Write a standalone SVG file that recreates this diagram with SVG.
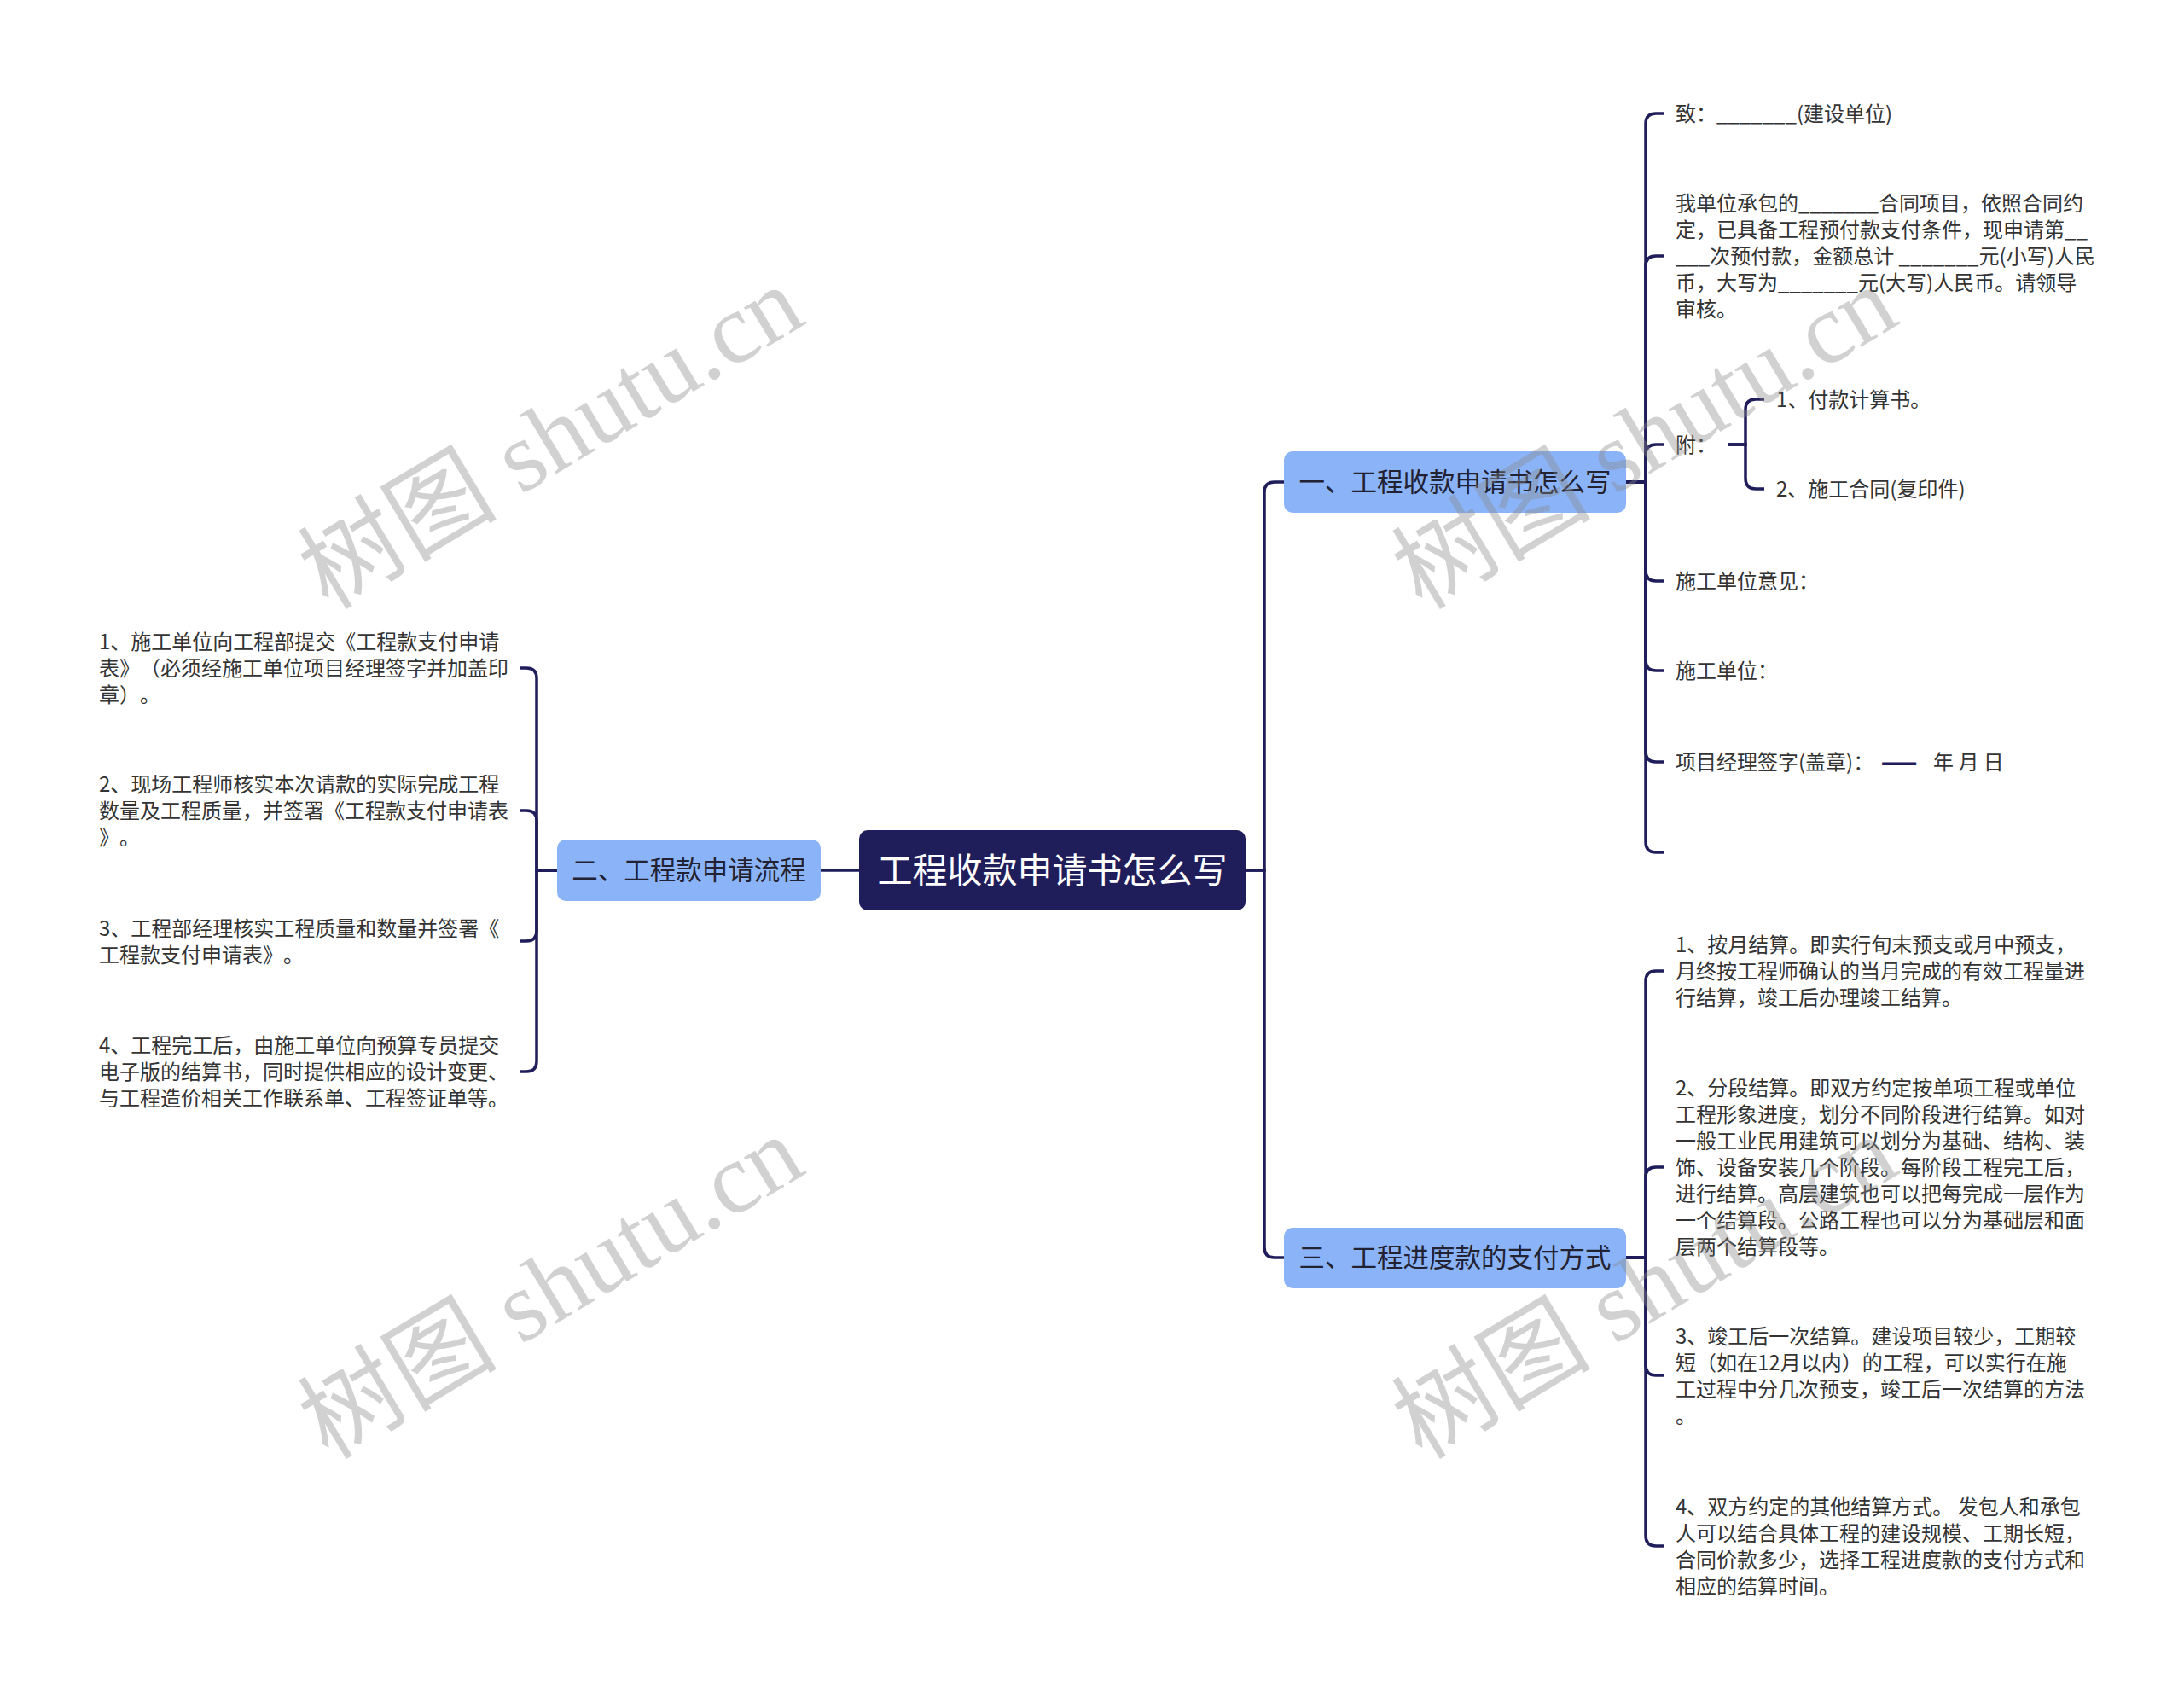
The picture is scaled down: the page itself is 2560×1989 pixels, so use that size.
<svg xmlns="http://www.w3.org/2000/svg" width="2560" height="1989" viewBox="0 0 2560 1989">
<style>
.bg{fill:#ffffff}
.conn{fill:none;stroke:#1f1d5a;stroke-width:3.5;stroke-linecap:butt}
.root{fill:#1f1d5a}
.rootT{fill:#ffffff;font-family:"Noto Sans CJK SC","Noto Sans",sans-serif;font-size:41px}
.br{fill:#8bb4f8}
.brT{fill:#222233;font-family:"Noto Sans CJK SC","Noto Sans",sans-serif;font-size:30.5px}
.leaf{fill:#333333;font-family:"Noto Sans CJK SC","Noto Sans",sans-serif;font-size:24px;text-spacing-trim:space-all}
.dash{fill:#1f1d5a;stroke:#1f1d5a;stroke-width:2}
.wm{fill:#888888;opacity:0.38;font-family:"Liberation Serif","Noto Sans CJK SC",serif;font-size:117px}
</style>
<rect class="bg" x="0" y="0" width="2560" height="1989"/>
<g id="connectors">
<path class="conn" d="M1460,1020 H1482 V577 Q1482,565 1494,565 H1505"/>
<path class="conn" d="M1460,1020 H1482 V1462 Q1482,1474 1494,1474 H1505"/>
<path class="conn" d="M1007,1020 H962"/>
<path class="conn" d="M653,1020 H629 V795 Q629,783 617,783 H609"/>
<path class="conn" d="M653,1020 H629 V962 Q629,950 617,950 H609"/>
<path class="conn" d="M653,1020 H629 V1091 Q629,1103 617,1103 H609"/>
<path class="conn" d="M653,1020 H629 V1244 Q629,1256 617,1256 H609"/>
<path class="conn" d="M1906,565 H1929 V145 Q1929,133 1941,133 H1951"/>
<path class="conn" d="M1906,565 H1929 V312 Q1929,300 1941,300 H1951"/>
<path class="conn" d="M1906,565 H1929 V533 Q1929,521 1941,521 H1951"/>
<path class="conn" d="M1906,565 H1929 V669 Q1929,681 1941,681 H1951"/>
<path class="conn" d="M1906,565 H1929 V774 Q1929,786 1941,786 H1951"/>
<path class="conn" d="M1906,565 H1929 V881 Q1929,893 1941,893 H1951"/>
<path class="conn" d="M1906,565 H1929 V987 Q1929,999 1941,999 H1951"/>
<path class="conn" d="M2025,521 H2046 V480 Q2046,468 2058,468 H2068"/>
<path class="conn" d="M2025,521 H2046 V561 Q2046,573 2058,573 H2068"/>
<path class="conn" d="M1906,1474 H1929 V1150 Q1929,1138 1941,1138 H1951"/>
<path class="conn" d="M1906,1474 H1929 V1380 Q1929,1368 1941,1368 H1951"/>
<path class="conn" d="M1906,1474 H1929 V1600 Q1929,1612 1941,1612 H1951"/>
<path class="conn" d="M1906,1474 H1929 V1800 Q1929,1812 1941,1812 H1951"/>
</g>
<g id="root">
<rect class="root" x="1007" y="973" width="453" height="94" rx="10"/>
<text class="rootT" x="1233.5" y="1035" text-anchor="middle">工程收款申请书怎么写</text>
</g>
<g id="branch1">
<rect class="br" x="1505" y="529" width="401" height="72" rx="10"/>
<text class="brT" x="1705.5" y="576" text-anchor="middle">一、工程收款申请书怎么写</text>
</g>
<g id="branch2">
<rect class="br" x="653" y="984" width="309" height="72" rx="10"/>
<text class="brT" x="807.5" y="1031" text-anchor="middle">二、工程款申请流程</text>
</g>
<g id="branch3">
<rect class="br" x="1505" y="1439" width="401" height="71" rx="10"/>
<text class="brT" x="1705.5" y="1485" text-anchor="middle">三、工程进度款的支付方式</text>
</g>
<g id="l1"><text class="leaf" x="116"><tspan x="116" y="761">1、施工单位向工程部提交《工程款支付申请</tspan><tspan x="116" y="792">表》（必须经施工单位项目经理签字并加盖印</tspan><tspan x="116" y="823">章）。</tspan></text></g>
<g id="l2"><text class="leaf" x="116"><tspan x="116" y="928">2、现场工程师核实本次请款的实际完成工程</tspan><tspan x="116" y="959">数量及工程质量，并签署《工程款支付申请表</tspan><tspan x="116" y="990">》。</tspan></text></g>
<g id="l3"><text class="leaf" x="116"><tspan x="116" y="1097">3、工程部经理核实工程质量和数量并签署《</tspan><tspan x="116" y="1128">工程款支付申请表》。</tspan></text></g>
<g id="l4"><text class="leaf" x="116"><tspan x="116" y="1234">4、工程完工后，由施工单位向预算专员提交</tspan><tspan x="116" y="1265">电子版的结算书，同时提供相应的设计变更、</tspan><tspan x="116" y="1296">与工程造价相关工作联系单、工程签证单等。</tspan></text></g>
<g id="r1"><text class="leaf" x="1964" y="142">致：_______(建设单位)</text></g>
<g id="r2"><text class="leaf" x="1964"><tspan x="1964" y="247">我单位承包的_______合同项目，依照合同约</tspan><tspan x="1964" y="278">定，已具备工程预付款支付条件，现申请第__</tspan><tspan x="1964" y="309">___次预付款，金额总计 _______元(小写)人民</tspan><tspan x="1964" y="340">币，大写为_______元(大写)人民币。请领导</tspan><tspan x="1964" y="371">审核。</tspan></text></g>
<g id="r3"><text class="leaf" x="1964" y="530">附：</text></g>
<g id="r3a"><text class="leaf" x="2082" y="477">1、付款计算书。</text></g>
<g id="r3b"><text class="leaf" x="2082" y="582">2、施工合同(复印件)</text></g>
<g id="r4"><text class="leaf" x="1964" y="690">施工单位意见：</text></g>
<g id="r5"><text class="leaf" x="1964" y="795">施工单位：</text></g>
<g id="r6"><text class="leaf" x="1964" y="902">项目经理签字(盖章)：<tspan class="dash" x="2206">——</tspan><tspan x="2266">年 月 日</tspan></text></g>
<g id="r7"></g>
<g id="s1"><text class="leaf" x="1964"><tspan x="1964" y="1116">1、按月结算。即实行旬末预支或月中预支，</tspan><tspan x="1964" y="1147">月终按工程师确认的当月完成的有效工程量进</tspan><tspan x="1964" y="1178">行结算，竣工后办理竣工结算。</tspan></text></g>
<g id="s2"><text class="leaf" x="1964"><tspan x="1964" y="1284">2、分段结算。即双方约定按单项工程或单位</tspan><tspan x="1964" y="1315">工程形象进度，划分不同阶段进行结算。如对</tspan><tspan x="1964" y="1346">一般工业民用建筑可以划分为基础、结构、装</tspan><tspan x="1964" y="1377">饰、设备安装几个阶段。每阶段工程完工后，</tspan><tspan x="1964" y="1408">进行结算。高层建筑也可以把每完成一层作为</tspan><tspan x="1964" y="1439">一个结算段。公路工程也可以分为基础层和面</tspan><tspan x="1964" y="1470">层两个结算段等。</tspan></text></g>
<g id="s3"><text class="leaf" x="1964"><tspan x="1964" y="1575">3、竣工后一次结算。建设项目较少，工期较</tspan><tspan x="1964" y="1606">短（如在12月以内）的工程，可以实行在施</tspan><tspan x="1964" y="1637">工过程中分几次预支，竣工后一次结算的方法</tspan><tspan x="1964" y="1668">。</tspan></text></g>
<g id="s4"><text class="leaf" x="1964"><tspan x="1964" y="1775">4、双方约定的其他结算方式。 发包人和承包</tspan><tspan x="1964" y="1806">人可以结合具体工程的建设规模、工期长短，</tspan><tspan x="1964" y="1837">合同价款多少，选择工程进度款的支付方式和</tspan><tspan x="1964" y="1868">相应的结算时间。</tspan></text></g>
<g id="watermarks">
<text class="wm" x="666" y="547" text-anchor="middle" transform="rotate(-31 666 547)">树图 shutu.cn</text>
<text class="wm" x="1948" y="547" text-anchor="middle" transform="rotate(-31 1948 547)">树图 shutu.cn</text>
<text class="wm" x="666" y="1543" text-anchor="middle" transform="rotate(-31 666 1543)">树图 shutu.cn</text>
<text class="wm" x="1948" y="1543" text-anchor="middle" transform="rotate(-31 1948 1543)">树图 shutu.cn</text>
</g>
</svg>
